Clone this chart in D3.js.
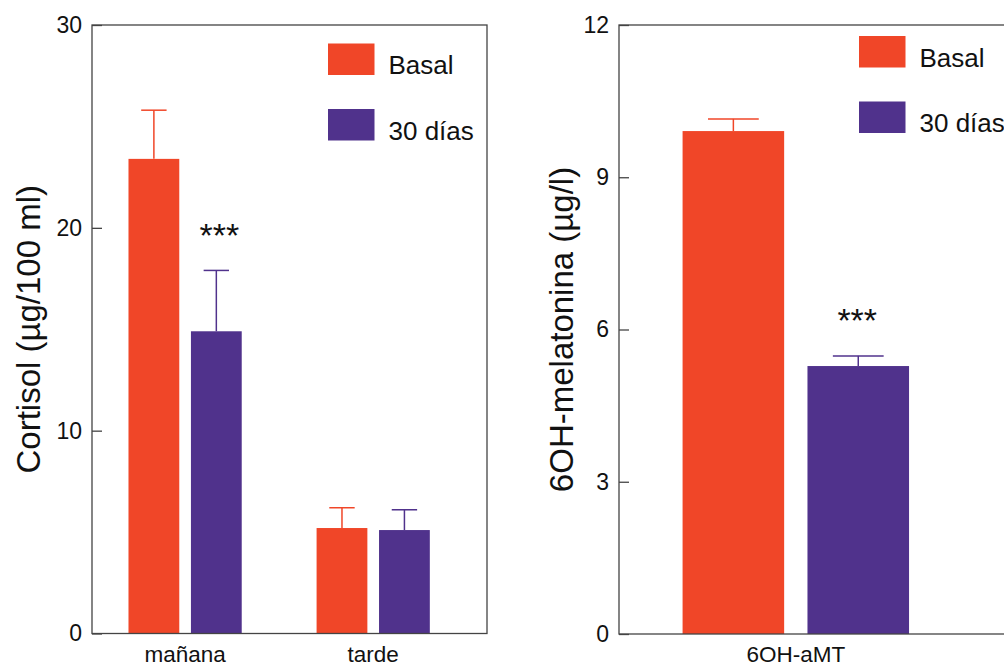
<!DOCTYPE html>
<html>
<head>
<meta charset="utf-8">
<script src="https://cdn.jsdelivr.net/npm/d3@7"></script>
<style>
  body { margin: 0; background: #fff; }
  svg { display: block; font-family: "Liberation Sans", Arial, sans-serif; }
  .tick text { font-size: 23px; fill: #111; }
  .tick line { stroke: #444; stroke-width: 1.3; }
</style>
</head>
<body>
<svg id="chart" width="1004" height="666"></svg>
<script>
// series shared by both panels
const series = ["Basal", "30 días"];
const colors = ["#F04628", "#50328C"];

// cortisol panel
const cortisolCats = ["mañana", "tarde"];
const cortisolBasal = [23.4, 5.2];
const cortisolBasalErr = [2.4, 1.0];
const cortisol30 = [14.9, 5.1];
const cortisol30Err = [3.0, 1.0];
const cortisolTicks = [0, 10, 20, 30];
const cortisolSig = ["", "***", "", ""]; // per bar (cat x series)

// melatonin panel
const melCats = ["6OH-aMT"];
const melBasal = [9.91];
const melBasalErr = [0.24];
const mel30 = [5.28];
const mel30Err = [0.2];
const melTicks = [0, 3, 6, 9, 12];
const melSig = ["", "***"];

const svg = d3.select("#chart");

function panel(opts) {
  const g = svg.append("g");
  const x = d3.scaleLinear().domain(opts.xDomain).range([opts.left, opts.right]);
  const y = d3.scaleLinear().domain([0, opts.yMax]).range([opts.bottom, opts.top]);
  const barW = x(0.27) - x(0);
  const off = x(0.166) - x(0);

  // bars built from the arrays
  const bars = [];
  opts.cats.forEach((c, i) => {
    opts.means.forEach((m, s) => {
      bars.push({ cat: c, i: i, s: s, v: m[i], e: opts.errs[s][i], sig: opts.sig[i * 2 + s] });
    });
  });

  // error bars (drawn first, only upper part shows)
  const eb = g.selectAll(".err").data(bars).enter().append("g")
    .attr("stroke", d => colors[d.s]).attr("stroke-width", 1.5);
  eb.append("line")
    .attr("x1", d => x(d.i) + (d.s === 0 ? -off : off))
    .attr("x2", d => x(d.i) + (d.s === 0 ? -off : off))
    .attr("y1", d => y(d.v)).attr("y2", d => y(d.v + d.e));
  eb.append("line")
    .attr("x1", d => x(d.i) + (d.s === 0 ? -off : off) - barW / 4)
    .attr("x2", d => x(d.i) + (d.s === 0 ? -off : off) + barW / 4)
    .attr("y1", d => y(d.v + d.e)).attr("y2", d => y(d.v + d.e));

  g.selectAll(".bar").data(bars).enter().append("rect")
    .attr("x", d => x(d.i) + (d.s === 0 ? -off : off) - barW / 2)
    .attr("width", barW)
    .attr("y", d => y(d.v))
    .attr("height", d => y(0) - y(d.v))
    .attr("fill", d => colors[d.s]);

  // significance stars
  g.selectAll(".sig").data(bars.filter(d => d.sig)).enter().append("text")
    .attr("x", d => x(d.i) + off + opts.sigDx)
    .attr("y", d => y(d.v + d.e) - opts.sigGap)
    .attr("text-anchor", "middle")
    .attr("font-size", 34).attr("fill", "#111")
    .text(d => d.sig);

  // frame
  g.append("rect")
    .attr("x", opts.left).attr("y", opts.top)
    .attr("width", opts.right - opts.left).attr("height", opts.bottom - opts.top)
    .attr("fill", "none").attr("stroke", "#444").attr("stroke-width", 1.3);

  // y axis, ticks inward
  const ax = g.append("g").attr("transform", `translate(${opts.left},0)`)
    .call(d3.axisLeft(y).tickValues(opts.ticks).tickSizeInner(-10).tickSizeOuter(0).tickPadding(10));
  ax.select(".domain").remove();

  // category labels
  g.selectAll(".cat").data(opts.cats).enter().append("text")
    .attr("x", (d, i) => x(i)).attr("y", 662)
    .attr("text-anchor", "middle").attr("font-size", 22.5).attr("fill", "#111")
    .text(d => d);

  // y title
  g.append("text")
    .attr("transform", `translate(${opts.titleX},${(opts.top + opts.bottom) / 2}) rotate(-90)`)
    .attr("text-anchor", "middle").attr("font-size", 33).attr("fill", "#111")
    .text(opts.title);

  // legend
  series.forEach((s, k) => {
    g.append("rect")
      .attr("x", opts.legX).attr("y", opts.legY + k * 65.5)
      .attr("width", 46.5).attr("height", 31.5).attr("fill", colors[k]);
    g.append("text")
      .attr("x", opts.legX + 60.5).attr("y", opts.legY + k * 65.5 + 30.5)
      .attr("font-size", 26).attr("fill", "#111").text(s);
  });
}

panel({
  cats: cortisolCats, means: [cortisolBasal, cortisol30], errs: [cortisolBasalErr, cortisol30Err],
  sig: cortisolSig, ticks: cortisolTicks, yMax: 30,
  left: 92, right: 487, top: 25, bottom: 633.5, xDomain: [-0.495, 1.605],
  title: "Cortisol (µg/100 ml)", titleX: 40, legX: 328, legY: 43.5, sigGap: 23, sigDx: 3
});

panel({
  cats: melCats, means: [melBasal, mel30], errs: [melBasalErr, mel30Err],
  sig: melSig, ticks: melTicks, yMax: 12,
  left: 619, right: 1014, top: 25, bottom: 634, xDomain: [-0.47, 0.58],
  title: "6OH-melatonina (µg/l)", titleX: 573, legX: 859, legY: 36, sigGap: 23.5, sigDx: -1
});
</script>
</body>
</html>
